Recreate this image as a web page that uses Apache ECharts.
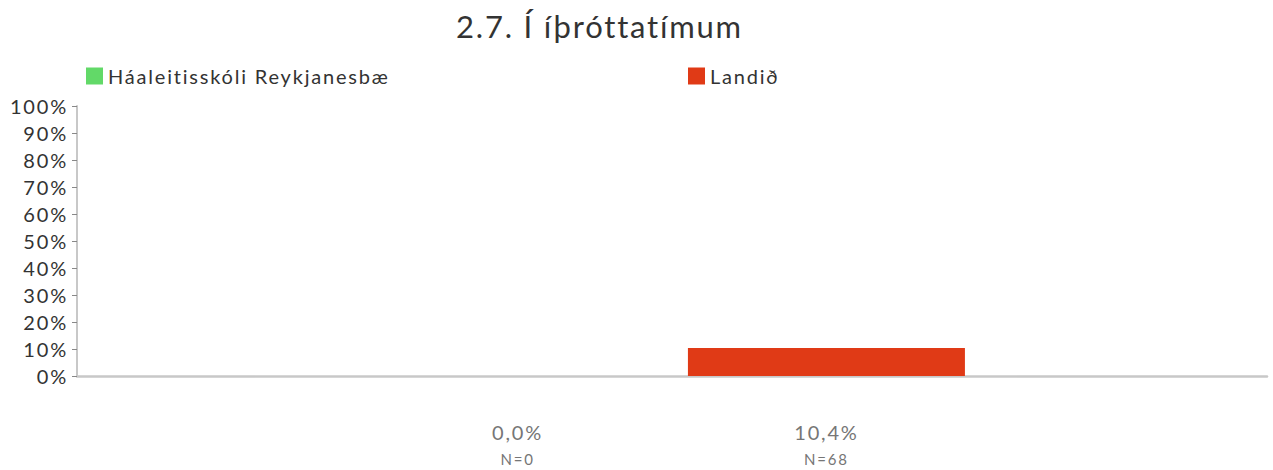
<!DOCTYPE html>
<html>
<head>
<meta charset="utf-8">
<script src="https://cdn.jsdelivr.net/npm/echarts@6/dist/echarts.min.js"></script>
<style>
  html, body { margin: 0; padding: 0; background: #fff; }
  #chart { width: 1273px; height: 470px; }
  /* airy tracking for all chart text */
  #chart svg text { letter-spacing: 1.8px; }
</style>
</head>
<body>
<div id="chart"></div>
<script>
// Share of answers per group, with respondent counts
const categories = ['Í íþróttatímum'];
const seriesNames = ['Háaleitisskóli Reykjanesbæ', 'Landið'];
const schoolValues = [0.0];
const nationalValues = [10.4];
const schoolCounts = [0];
const nationalCounts = [68];
const yTicks = [0, 10, 20, 30, 40, 50, 60, 70, 80, 90, 100];

const FONT = 'Lato, "Noto Sans", sans-serif';

function fmt(v) {
  return v.toFixed(1).replace('.', ',') + '%';
}

function bottomLabel(counts) {
  return {
    show: true,
    position: 'bottom',
    distance: 42,
    formatter: p => '{v|' + fmt(p.value) + '}\n{n|N=' + counts[p.dataIndex] + '}',
    rich: {
      v: { fontFamily: FONT, fontSize: 20, color: '#767676', lineHeight: 28, align: 'center' },
      n: { fontFamily: FONT, fontSize: 15, color: '#767676', lineHeight: 26, align: 'center' }
    }
  };
}

const legendText = { fontFamily: FONT, fontSize: 20, color: '#333333' };

const chart = echarts.init(document.getElementById('chart'), null, { renderer: 'svg' });
chart.setOption({
  animation: false,
  backgroundColor: '#ffffff',
  title: {
    text: '2.7. Í íþróttatímum',
    left: 451,
    top: 5,
    textStyle: { fontFamily: FONT, fontSize: 31, fontWeight: 'normal', color: '#333333' }
  },
  legend: [
    {
      data: [seriesNames[0]],
      left: 81, top: 61,
      icon: 'rect', itemWidth: 17, itemHeight: 17, itemGap: 8,
      textStyle: legendText
    },
    {
      data: [seriesNames[1]],
      left: 683, top: 61,
      icon: 'rect', itemWidth: 17, itemHeight: 17, itemGap: 8,
      textStyle: legendText
    }
  ],
  grid: { left: 77, right: 6, top: 106, bottom: 94, containLabel: false },
  xAxis: {
    type: 'category',
    data: categories,
    axisLine: { show: true, lineStyle: { color: '#c8c8c8', width: 2.5 } },
    axisTick: { show: false },
    axisLabel: { show: false }
  },
  yAxis: {
    type: 'value',
    min: 0, max: 100, interval: 10,
    axisLine: { show: true, lineStyle: { color: '#c8c8c8', width: 2 } },
    axisTick: { show: true, length: 5, lineStyle: { color: '#888888' } },
    splitLine: { show: false },
    axisLabel: {
      margin: 9,
      fontFamily: FONT, fontSize: 20, color: '#333333',
      formatter: v => (yTicks.includes(v) ? v + '%' : '')
    }
  },
  series: [
    {
      name: seriesNames[0],
      type: 'bar',
      data: schoolValues,
      barWidth: 277,
      barGap: '11.5%',
      itemStyle: { color: '#62d968' },
      label: bottomLabel(schoolCounts)
    },
    {
      name: seriesNames[1],
      type: 'bar',
      data: nationalValues,
      barWidth: 277,
      itemStyle: { color: '#e03a16' },
      label: bottomLabel(nationalCounts)
    }
  ]
});
</script>
</body>
</html>
